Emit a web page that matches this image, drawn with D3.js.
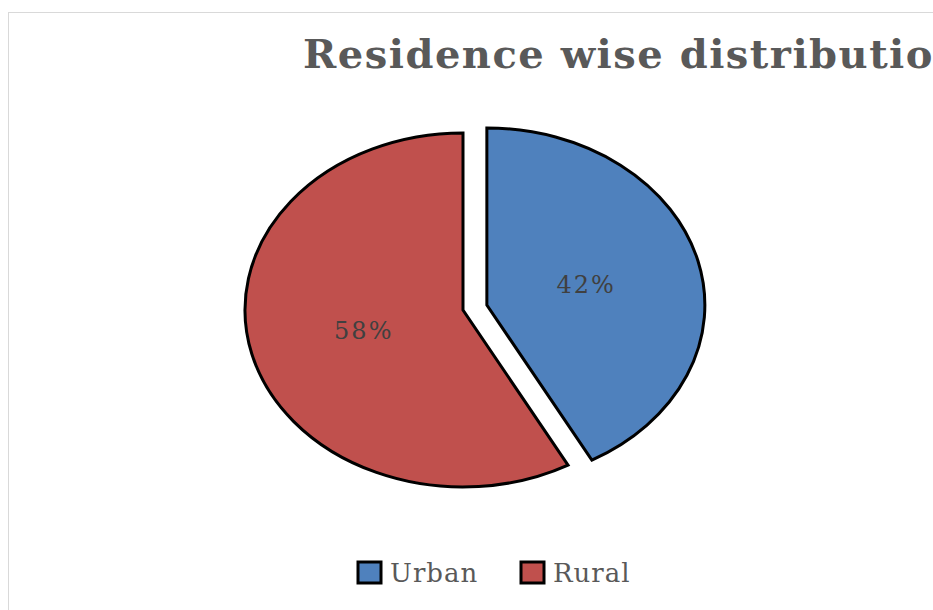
<!DOCTYPE html>
<html>
<head>
<meta charset="utf-8">
<script src="https://cdn.jsdelivr.net/npm/d3@7"></script>
<style>
  body { margin: 0; background: #fff; overflow: hidden; }
  svg { display: block; }
</style>
</head>
<body>
<div id="container"></div>
<script>
/* CONSTANTS AND GLOBALS */
const width = 933,
  height = 610,
  center = { x: 463, y: 310 },
  rx = 218,
  ry = 177,
  explode = 20;

/* DATA */
const categories = ["Urban", "Rural"]
const values = [42, 58]
const colors = ["#4F81BD", "#C0504D"]
const title = "Residence wise distribution"

const data = categories.map((c, i) => ({ name: c, value: values[i] }))

const colorScale = d3.scaleOrdinal()
  .domain(categories)
  .range(colors)

/* HTML ELEMENTS */
const svg = d3.select("#container")
  .append("svg")
  .attr("width", width)
  .attr("height", height)

// chart frame
svg.append("rect")
  .attr("x", 8.5)
  .attr("y", 12.5)
  .attr("width", width + 20)
  .attr("height", height + 20)
  .attr("fill", "#fff")
  .attr("stroke", "#d9d9d9")

// title
svg.append("text")
  .attr("x", 303)
  .attr("y", 68)
  .attr("font-family", "DejaVu Serif")
  .attr("font-weight", "bold")
  .attr("font-size", 40)
  .attr("letter-spacing", 1.5)
  .attr("fill", "#595959")
  .text(title)

const pie = d3.pie()
  .sort(null)
  .value(d => d.value)

const arc = d3.arc()
  .innerRadius(0)
  .outerRadius(ry)

const sx = rx / ry

const slices = svg.append("g")
  .attr("transform", `translate(${center.x},${center.y})`)
  .selectAll("g")
  .data(pie(data))
  .join("g")
  .attr("transform", d => {
    if (d.data.name !== "Urban") return "scale(" + sx + ",1)"
    const mid = (d.startAngle + d.endAngle) / 2
    return `translate(${Math.sin(mid) * explode * sx},${-Math.cos(mid) * explode}) scale(${sx},1)`
  })

slices.append("path")
  .attr("d", arc)
  .attr("fill", d => colorScale(d.data.name))
  .attr("stroke", "#000")
  .attr("stroke-width", 3)
  .attr("stroke-linejoin", "miter")
  .attr("vector-effect", "non-scaling-stroke")

// labels
const labelArc = d3.arc().innerRadius(ry * 0.94).outerRadius(0)
slices.append("text")
  .attr("transform", d => {
    const [x, y] = labelArc.centroid(d)
    return `translate(${x},${y}) scale(${1 / sx},1)`
  })
  .attr("text-anchor", "middle")
  .attr("dy", "0.35em")
  .attr("font-family", "DejaVu Serif")
  .attr("font-size", 24)
  .attr("letter-spacing", 2)
  .attr("fill", "#404040")
  .text(d => d.data.value + "%")

// legend
const legend = svg.append("g")
  .selectAll("g")
  .data(categories)
  .join("g")
  .attr("transform", (d, i) => `translate(${358 + i * 163},562)`)

legend.append("rect")
  .attr("width", 23)
  .attr("height", 21)
  .attr("fill", d => colorScale(d))
  .attr("stroke", "#000")
  .attr("stroke-width", 3)

legend.append("text")
  .attr("x", 32)
  .attr("y", 20)
  .attr("font-family", "DejaVu Serif")
  .attr("font-size", 26)
  .attr("letter-spacing", 1)
  .attr("fill", "#595959")
  .text(d => d)
</script>
</body>
</html>
